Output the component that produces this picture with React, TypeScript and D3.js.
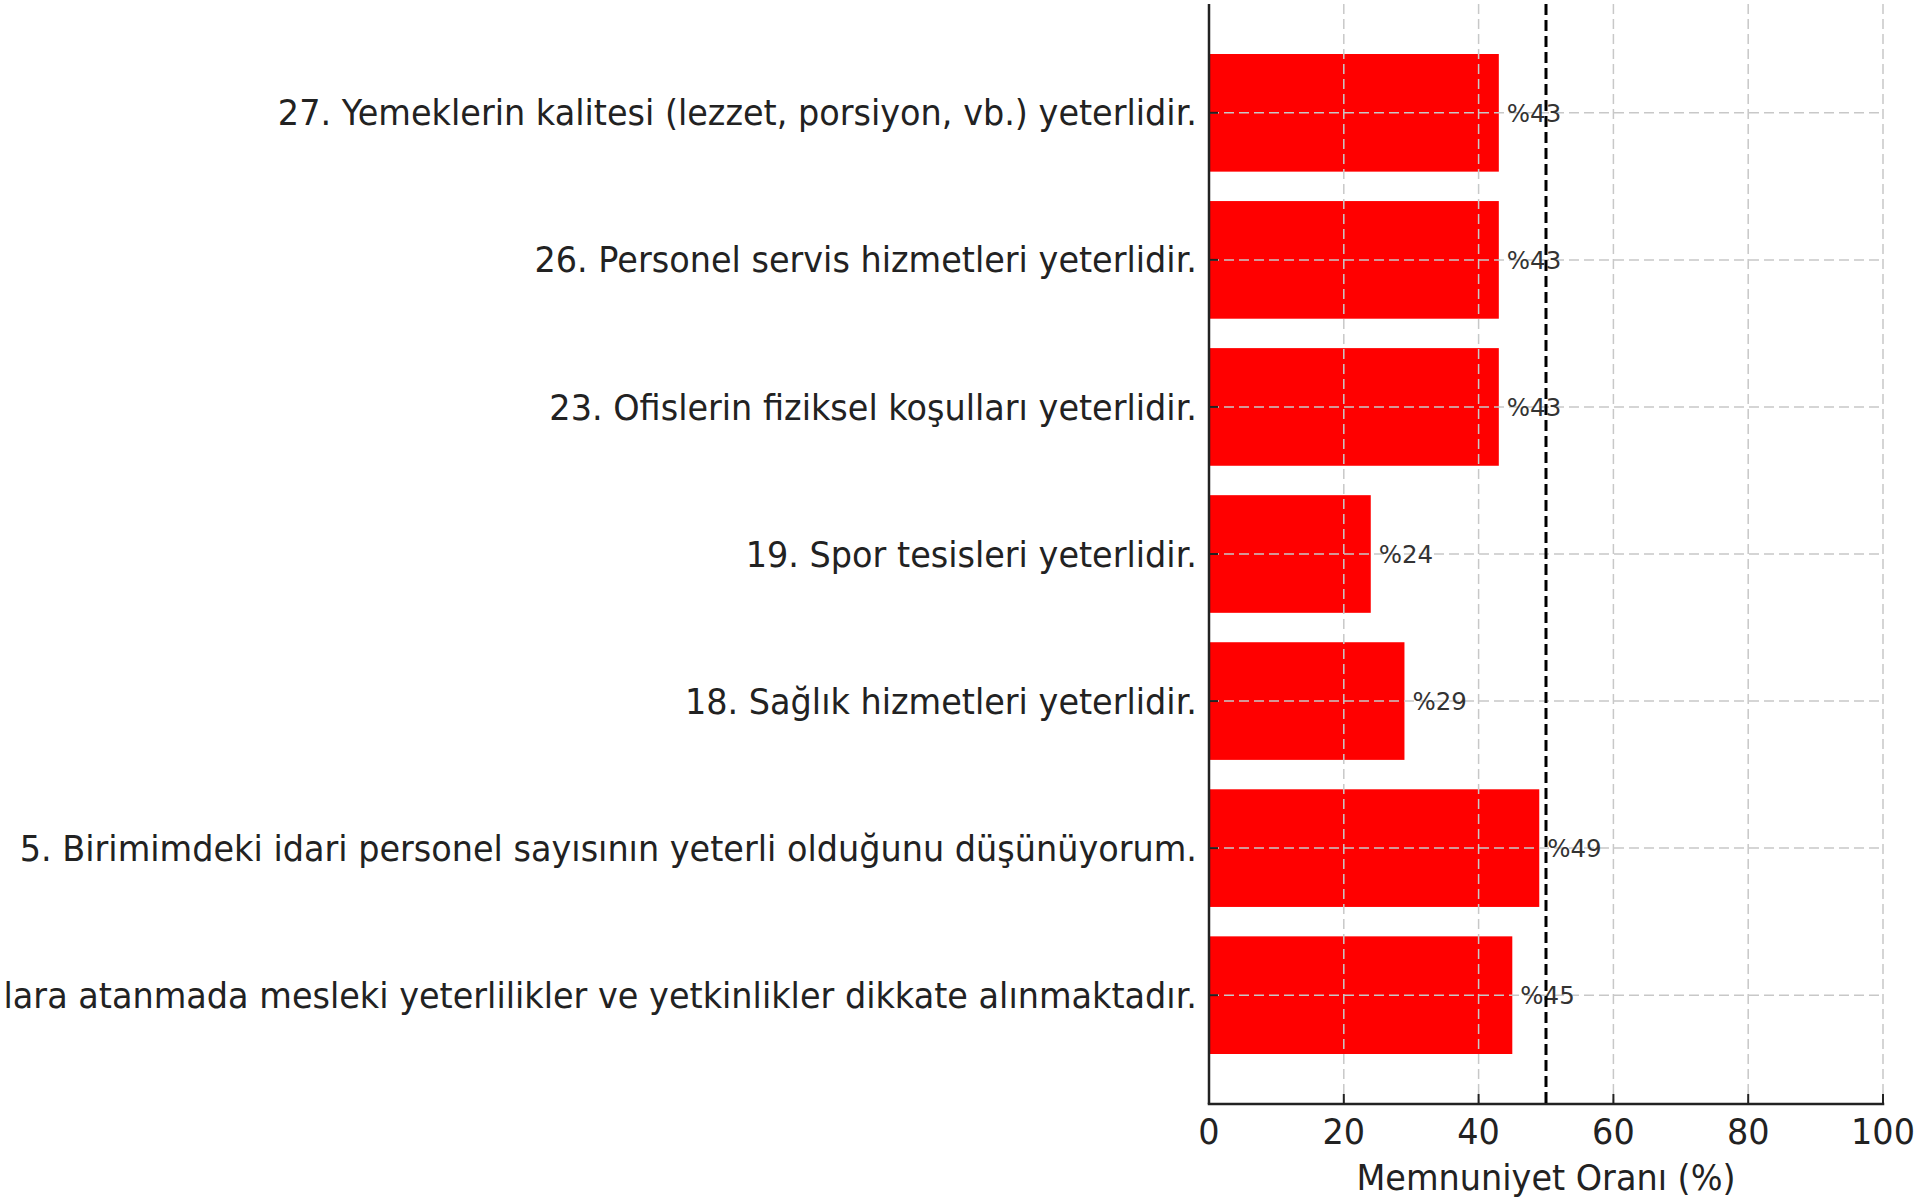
import { useRef, useEffect } from "react";
import * as d3 from "d3";

// items top to bottom, as in the picture
const items = [
  "27. Yemeklerin kalitesi (lezzet, porsiyon, vb.) yeterlidir.",
  "26. Personel servis hizmetleri yeterlidir.",
  "23. Ofislerin fiziksel koşulları yeterlidir.",
  "19. Spor tesisleri yeterlidir.",
  "18. Sağlık hizmetleri yeterlidir.",
  "5. Birimimdeki idari personel sayısının yeterli olduğunu düşünüyorum.",
  "lara atanmada mesleki yeterlilikler ve yetkinlikler dikkate alınmaktadır.",
];
const satisfaction = [43, 43, 43, 24, 29, 49, 45];
const xTicks = [0, 20, 40, 60, 80, 100];
const threshold = 50;
const xLabel = "Memnuniyet Oranı (%)";

const W = 1928;
const H = 1203;
const FONT = "DejaVu Sans";
const STRETCH = 1.045; // text in the picture is a touch taller than wide

const App = () => {
  const ref = useRef<SVGSVGElement>(null);

  useEffect(() => {
    if (!ref.current) return;
    const svg = d3.select(ref.current);
    svg.selectAll("*").remove();

    const left = 1209;
    const right = 1883;
    const top = 4;
    const bottom = 1104;

    const x = d3.scaleLinear().domain([0, 100]).range([left, right]);
    const y = d3
      .scaleBand()
      .domain(items)
      .range([top, bottom])
      .paddingInner(0.2)
      .paddingOuter(0.34);

    const rows = items.map((name, i) => ({ name, value: satisfaction[i] }));
    const mid = (name: string) => (y(name) ?? 0) + y.bandwidth() / 2;
    const place = (px: number, py: number) =>
      `translate(${px},${py}) scale(1,${STRETCH})`;

    // bars
    svg
      .selectAll(".bar")
      .data(rows)
      .enter()
      .append("rect")
      .attr("class", "bar")
      .attr("x", x(0))
      .attr("y", (d) => y(d.name) ?? 0)
      .attr("width", (d) => x(d.value) - x(0))
      .attr("height", y.bandwidth())
      .attr("fill", "#ff0000");

    // grid
    svg
      .selectAll(".vgrid")
      .data(xTicks.slice(1))
      .enter()
      .append("line")
      .attr("x1", (d) => x(d))
      .attr("x2", (d) => x(d))
      .attr("y1", top)
      .attr("y2", bottom)
      .attr("stroke", "#c8c8c8")
      .attr("stroke-width", 1.5)
      .attr("stroke-dasharray", "10,5");

    svg
      .selectAll(".hgrid")
      .data(items)
      .enter()
      .append("line")
      .attr("x1", left)
      .attr("x2", right)
      .attr("y1", (d) => mid(d))
      .attr("y2", (d) => mid(d))
      .attr("stroke", "#c8c8c8")
      .attr("stroke-width", 1.5)
      .attr("stroke-dasharray", "10,5");

    // value labels
    svg
      .selectAll(".val")
      .data(rows)
      .enter()
      .append("text")
      .attr("transform", (d) => place(x(d.value) + 8, mid(d.name)))
      .attr("dy", "0.36em")
      .attr("font-family", FONT)
      .attr("font-size", 24.5)
      .attr("fill", "#333")
      .text((d) => `%${d.value}`);

    // category labels
    svg
      .selectAll(".cat")
      .data(items)
      .enter()
      .append("text")
      .attr("transform", (d) => place(left - 12, mid(d)))
      .attr("dy", "0.36em")
      .attr("text-anchor", "end")
      .attr("font-family", FONT)
      .attr("font-size", 33.5)
      .attr("fill", "#222")
      .text((d) => d);

    // y ticks (inward)
    svg
      .selectAll(".ytick")
      .data(items)
      .enter()
      .append("line")
      .attr("x1", left)
      .attr("x2", left + 9)
      .attr("y1", (d) => mid(d))
      .attr("y2", (d) => mid(d))
      .attr("stroke", "#222")
      .attr("stroke-width", 2);

    // x ticks (inward) and labels
    svg
      .selectAll(".xtick")
      .data(xTicks)
      .enter()
      .append("line")
      .attr("x1", (d) => x(d))
      .attr("x2", (d) => x(d))
      .attr("y1", bottom)
      .attr("y2", bottom - 10)
      .attr("stroke", "#222")
      .attr("stroke-width", 2);

    svg
      .selectAll(".xlab")
      .data(xTicks)
      .enter()
      .append("text")
      .attr("transform", (d) => place(x(d), 1144))
      .attr("text-anchor", "middle")
      .attr("font-family", FONT)
      .attr("font-size", 33.5)
      .attr("fill", "#222")
      .text((d) => d);

    svg
      .append("text")
      .attr("transform", place((left + right) / 2, 1190))
      .attr("text-anchor", "middle")
      .attr("font-family", FONT)
      .attr("font-size", 33.5)
      .attr("fill", "#222")
      .text(xLabel);

    // spines
    svg
      .append("line")
      .attr("x1", left)
      .attr("x2", left)
      .attr("y1", top)
      .attr("y2", bottom)
      .attr("stroke", "#222")
      .attr("stroke-width", 2.5);
    svg
      .append("line")
      .attr("x1", left - 1.25)
      .attr("x2", right + 1.25)
      .attr("y1", bottom)
      .attr("y2", bottom)
      .attr("stroke", "#222")
      .attr("stroke-width", 2.5);

    // 50% reference line
    svg
      .append("line")
      .attr("x1", x(threshold))
      .attr("x2", x(threshold))
      .attr("y1", top)
      .attr("y2", bottom)
      .attr("stroke", "#000")
      .attr("stroke-width", 3)
      .attr("stroke-dasharray", "11,5");
  }, []);

  return (
    <svg
      ref={ref}
      width={W}
      height={H}
      style={{ position: "absolute", left: 0, top: 0, background: "#fff" }}
    />
  );
};

export default App;
